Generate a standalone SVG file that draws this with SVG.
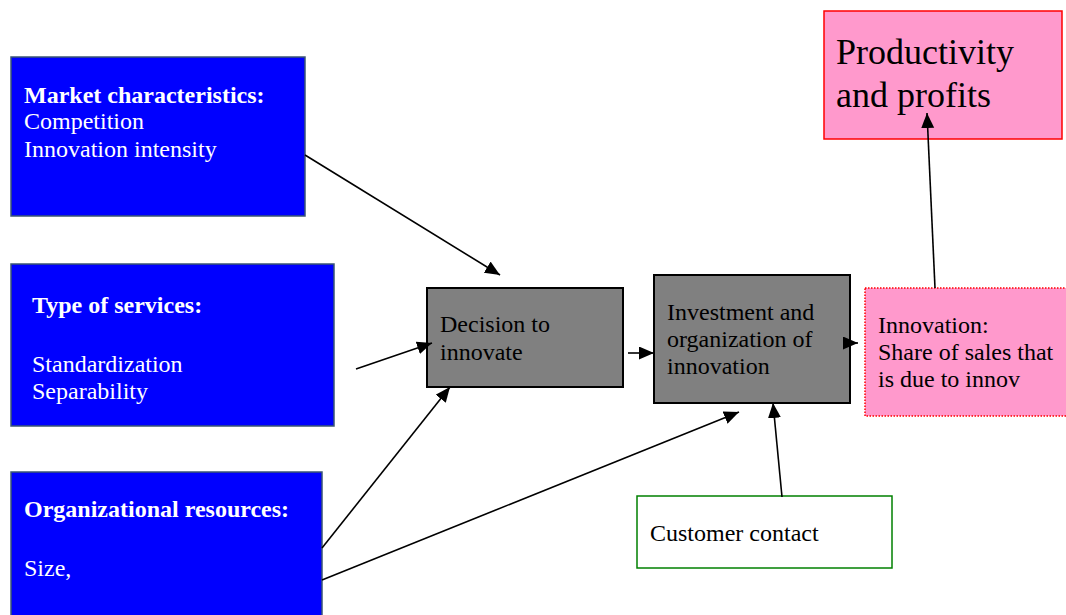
<svg xmlns="http://www.w3.org/2000/svg" width="1066" height="615" viewBox="0 0 1066 615">
  <style>
    .blue { fill: #0000ff; stroke: #3a5675; stroke-width: 1.5; }
    .grey { fill: #808080; stroke: #000; stroke-width: 2; }
    .pink { fill: #ff99cc; stroke: #ff0000; stroke-width: 1.5; }
    .pinkdot { fill: #ff99cc; stroke: #ff0000; stroke-width: 1.5; stroke-dasharray: 1.5 1.5; }
    .green { fill: #ffffff; stroke: #008000; stroke-width: 1.5; }
    .t { font-family: "Liberation Serif", "Times New Roman", serif; font-size: 24px; }
    .w { fill: #ffffff; }
    .k { fill: #000000; }
    .b { font-weight: bold; }
    .big { font-size: 36px; }
    .conn line { stroke: #000; stroke-width: 1.6; marker-end: url(#ah); }
  </style>
  <defs>
    <marker id="ah" markerUnits="userSpaceOnUse" markerWidth="16" markerHeight="14" refX="15" refY="6.5" orient="auto">
      <path d="M0,0 L15,6.5 L0,13 z" fill="#000"/>
    </marker>
  </defs>
  <rect width="1066" height="615" fill="#ffffff"/>

  <g id="market">
    <rect class="blue" x="11" y="57" width="294" height="159"/>
    <text class="t w b" x="24" y="103">Market characteristics:</text>
    <text class="t w" x="24" y="129">Competition</text>
    <text class="t w" x="24" y="157">Innovation intensity</text>
  </g>

  <g id="services">
    <rect class="blue" x="11" y="264" width="323" height="162"/>
    <text class="t w b" x="32" y="313">Type of services:</text>
    <text class="t w" x="32" y="372">Standardization</text>
    <text class="t w" x="32" y="399">Separability</text>
  </g>

  <g id="resources">
    <rect class="blue" x="11" y="472" width="311" height="150"/>
    <text class="t w b" x="24" y="517">Organizational resources:</text>
    <text class="t w" x="24" y="576">Size,</text>
  </g>

  <g id="decision">
    <rect class="grey" x="427" y="288" width="196" height="99"/>
    <text class="t k" x="440" y="332">Decision to</text>
    <text class="t k" x="440" y="360">innovate</text>
  </g>

  <g id="investment">
    <rect class="grey" x="654" y="275" width="196" height="128"/>
    <text class="t k" x="667" y="320">Investment and</text>
    <text class="t k" x="667" y="347">organization of</text>
    <text class="t k" x="667" y="374">innovation</text>
  </g>

  <g id="innovation">
    <rect class="pinkdot" x="865" y="288" width="203" height="128"/>
    <text class="t k" x="878" y="333">Innovation:</text>
    <text class="t k" x="878" y="360">Share of sales that</text>
    <text class="t k" x="878" y="387">is due to innov</text>
  </g>

  <g id="productivity">
    <rect class="pink" x="824" y="11" width="238" height="128"/>
    <text class="t k big" x="836" y="64">Productivity</text>
    <text class="t k big" x="836" y="107">and profits</text>
  </g>

  <g id="customer">
    <rect class="green" x="637" y="496" width="255" height="72"/>
    <text class="t k" x="650" y="541">Customer contact</text>
  </g>

  <g id="connectors" class="conn">
    <line x1="305" y1="155" x2="500" y2="275"/>
    <line x1="356" y1="369" x2="432" y2="343"/>
    <line x1="322" y1="548" x2="450" y2="387"/>
    <line x1="322" y1="580" x2="739" y2="412"/>
    <line x1="628" y1="353" x2="654" y2="353"/>
    <line x1="843" y1="343" x2="858" y2="343"/>
    <line x1="782" y1="497" x2="773" y2="403"/>
    <line x1="935" y1="288" x2="927" y2="113"/>
  </g>
</svg>
